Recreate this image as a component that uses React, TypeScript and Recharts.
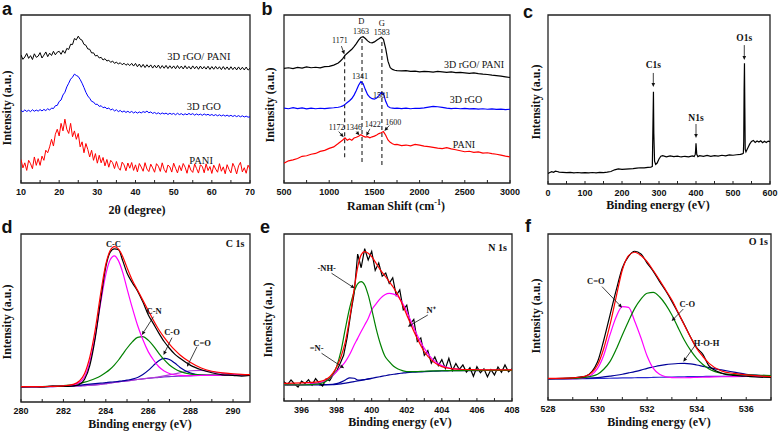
import React from 'react';
import { LineChart, Line, XAxis, YAxis, ReferenceArea, ReferenceDot, ReferenceLine } from 'recharts';

const SERIF = '"Liberation Serif", "Times New Roman", serif';
const SANS = '"Liberation Sans", Arial, sans-serif';

// ---------- a: XRD ----------
const xrdAngle = [
  10, 10.5, 11, 11.5, 12, 12.5, 13, 13.5, 14, 14.5,
  15, 15.5, 16, 16.5, 17, 17.5, 18, 18.5, 19, 19.5,
  20, 20.5, 21, 21.5, 22, 22.5, 23, 23.5, 24, 24.5,
  25, 25.5, 26, 26.5, 27, 27.5, 28, 28.5, 29, 29.5,
  30, 30.5, 31, 31.5, 32, 32.5, 33, 33.5, 34, 34.5,
  35, 35.5, 36, 36.5, 37, 37.5, 38, 38.5, 39, 39.5,
  40, 40.5, 41, 41.5, 42, 42.5, 43, 43.5, 44, 44.5,
  45, 45.5, 46, 46.5, 47, 47.5, 48, 48.5, 49, 49.5,
  50, 50.5, 51, 51.5, 52, 52.5, 53, 53.5, 54, 54.5,
  55, 55.5, 56, 56.5, 57, 57.5, 58, 58.5, 59, 59.5,
  60, 60.5, 61, 61.5, 62, 62.5, 63, 63.5, 64, 64.5,
  65, 65.5, 66, 66.5, 67, 67.5, 68, 68.5, 69, 69.5,
  70,
];
const xrdComposite = [
  76.2, 73.6, 75, 77.1, 74.2, 75.8, 73.5, 76.9, 74.8, 75.5,
  77.6, 74.4, 76.1, 78, 75.2, 77.3, 75.9, 78.4, 76.3, 77.9,
  78.4, 76.6, 78.9, 77.2, 80.1, 79.5, 82.6, 82.4, 86, 85.2,
  87.4, 85.6, 85, 82.5, 82, 79.8, 79.6, 77.4, 77.5, 75.6,
  76, 74.4, 74.8, 73.2, 74, 72.6, 73.1, 71.8, 72.6, 71.2,
  72, 70.8, 71.6, 70.4, 71.3, 70.1, 71, 69.9, 71.2, 69.6,
  71.2, 69.2, 70.8, 68.9, 70.6, 68.7, 70.4, 68.9, 70.3, 68.4,
  70.1, 68.5, 70.2, 68.2, 69.9, 68.3, 70, 68.1, 69.8, 68.2,
  69.7, 68, 69.9, 68.1, 69.6, 67.9, 69.8, 68, 69.4, 67.8,
  69.7, 68, 69.5, 67.7, 69.6, 67.9, 69.3, 67.8, 69.5, 67.6,
  69.3, 67.7, 69.4, 67.8, 69.2, 67.5, 69.3, 67.6, 69.1, 67.4,
  69.2, 67.5, 69, 67.3, 69.1, 67.4, 68.9, 67.3, 69, 67.2,
  68.3,
];
const xrdRgo = [
  43.2, 42.4, 43.5, 42.6, 43.3, 42.5, 43.6, 42.7, 43.4, 42.8,
  43.7, 42.9, 43.8, 43.1, 44.2, 43.4, 44.6, 44.3, 46, 46.2,
  48.5, 49.4, 52.4, 54, 57.2, 59.4, 61.8, 63, 64.8, 64,
  63.4, 61.6, 59.4, 56.8, 54, 51.8, 50.4, 48.6, 48.2, 46.8,
  46.9, 45.6, 46, 44.8, 45.2, 44.2, 44.6, 43.5, 44, 42.9,
  43.6, 42.5, 43.2, 42.2, 42.9, 42, 42.7, 41.9, 42.6, 41.7,
  42.4, 41.6, 42.3, 41.7, 42.5, 42, 42.8, 41.8, 42.3, 41.4,
  42, 41.2, 41.8, 41, 41.7, 41.1, 41.6, 40.8, 41.5, 40.9,
  41.4, 40.6, 41.5, 40.7, 41.3, 40.5, 41.2, 40.6, 41.4, 40.7,
  41.3, 40.4, 41.1, 40.5, 41, 40.3, 41.1, 40.4, 40.9, 40.2,
  40.8, 40.1, 40.7, 40, 40.6, 39.9, 40.5, 39.8, 40.4, 39.7,
  40.3, 39.6, 40.2, 39.5, 40.1, 39.4, 40, 39.3, 39.8, 39.2,
  39.4,
];
const xrdPani = [
  14, 9, 12, 7.5, 13.5, 11.5, 8.5, 15.5, 10.5, 14.5,
  10.5, 16, 13.5, 19.5, 18, 21.5, 26, 22, 29, 32,
  28, 35.5, 31, 38, 32, 29.5, 35.5, 27.5, 31, 26,
  29.5, 21.5, 24.5, 18, 23.5, 20, 15.5, 19.5, 13.5, 17.5,
  11.8, 16.5, 12, 15.2, 10.2, 14, 9.4, 13.5, 12.1, 8.6,
  12.8, 9.2, 7.6, 12.4, 10.8, 7.3, 11.9, 8.8, 12.2, 7.5,
  10.8, 6.6, 11.6, 9.5, 7, 12.1, 8.3, 6.8, 11.2, 9,
  6.4, 11.5, 10, 6.9, 12, 8.1, 6.2, 10.7, 9.6, 6.5,
  11.8, 8.8, 6, 10.4, 7.3, 11.6, 9.4, 5.8, 10.9, 7.7,
  6.3, 11.3, 8.6, 5.9, 10.8, 9.9, 6.1, 11.4, 7.4, 9.8,
  5.7, 10.6, 8.3, 6.4, 11.5, 7, 9.6, 5.5, 10.9, 8.1,
  6, 11.7, 9.3, 5.4, 10.2, 12.3, 6.6, 9.1, 5.8, 10.6,
  8.3,
];

// ---------- b: Raman ----------
const ramanShift = [
  500, 550, 600, 650, 700, 750, 800, 850, 900, 950, 1000, 1050,
  1100, 1125, 1150, 1175, 1200, 1225, 1250, 1275, 1300, 1325, 1350, 1375, 1400,
  1425, 1450, 1475, 1500, 1525, 1550, 1575, 1600, 1625, 1650, 1675, 1700, 1725, 1750,
  1800, 1850, 1900, 1950, 2000, 2050, 2100, 2150, 2200, 2250, 2300, 2350, 2400,
  2450, 2500, 2550, 2600, 2650, 2700, 2750, 2800, 2850, 2900, 2950, 3000,
];
const ramanComposite = [
  68.2, 68.6, 68.1, 68.8, 68.4, 69.1, 68.6, 68.9, 68.5, 69.3, 69.4, 70.2,
  71.4, 72.6, 74, 76, 77.2, 78.4, 79.6, 81.2, 83, 85, 86.6, 87.1, 86,
  84.6, 83.6, 83.4, 84, 85, 85.8, 86.7, 85.5, 80, 72.5, 68.6, 67.6, 67.1, 66.9,
  66.7, 66.9, 66.4, 66.6, 66.2, 66.5, 66.3, 66, 66.4, 66.1, 65.8, 66.1, 65.7,
  65.9, 65.6, 65.3, 65.5, 65.1, 64.8, 64.6, 64.2, 63.9, 63.6, 63.2, 62.8,
];
const ramanRgo = [
  44.6, 44.2, 44.8, 44.3, 44.7, 44.1, 44.6, 44.2, 44.5, 44.3, 44.6, 44.8,
  45.1, 45.4, 45.9, 46.8, 47.9, 49, 50.3, 52.3, 55, 58.2, 60.3, 59.2, 55.6,
  52.6, 51, 50.2, 49.9, 50.6, 52, 53.8, 53.2, 48.6, 45.6, 44.8, 44.6, 44.4, 44.6,
  44.3, 44.6, 44.2, 44.5, 44.4, 44.7, 45.2, 45.6, 45.4, 45, 44.6, 44.3, 44.5,
  44.2, 44.4, 44.1, 44.3, 44, 44.2, 43.9, 44.1, 43.8, 44, 43.7, 43.9,
];
const ramanPani = [
  11.8, 13.2, 13.8, 14.6, 15.9, 16.2, 17.1, 17.6, 18.8, 19.4, 20.6, 21.5,
  23.5, 24.6, 25.6, 26.9, 25.4, 26.2, 25.5, 26.8, 27.2, 27.8, 28.7, 27.9, 27.3,
  27.6, 26.9, 27.5, 27.9, 28.6, 29.4, 29.9, 30.6, 28.4, 25.6, 24.2, 23.4, 22.8, 23,
  22.3, 22.6, 22.1, 23, 22.5, 21.9, 21.6, 21.2, 20.8, 20.5, 21, 20.3, 19.8,
  19.2, 18.6, 18.9, 18.2, 18.5, 17.8, 18, 17.5, 17.1, 16.6, 16, 15.6,
];

// ---------- c: XPS survey ----------
const surveyEnergy = [
  0, 5, 10, 15, 20, 25, 30, 40, 50, 60, 70, 80, 90, 100, 110, 120, 130, 140, 150, 160,
  170, 180, 190, 200, 210, 220, 230, 240, 250, 260, 270, 278, 282, 284, 285, 286, 288, 291, 295, 300,
  305, 310, 320, 330, 340, 350, 360, 370, 380, 390, 395, 398, 399, 400, 401, 402, 405, 410, 420, 430,
  440, 450, 460, 470, 480, 490, 500, 510, 520, 525, 528, 529, 530, 531, 532, 533, 535, 538, 541, 545,
  550, 555, 560, 565, 570, 575, 580, 585, 590, 595, 600,
];
const surveyCounts = [
  6.2, 6.8, 7.3, 6.9, 7.6, 7.4, 7, 6.9, 6.7, 6.9, 6.6, 6.8, 6.6, 6.7, 6.6, 6.8, 6.6, 6.9, 6.7, 7,
  7.4, 8.4, 8.9, 8.6, 8.8, 9, 9.1, 9.4, 9.6, 9.5, 9.8, 10, 10.4, 40, 54.6, 30, 13.5, 11.6, 12.4, 14.8,
  16.4, 16.8, 16.1, 16.6, 16.2, 16.5, 16, 16.4, 16.1, 16.6, 16.3, 17.5, 20, 24.1, 21, 17.6, 16.2, 16.8, 16.3, 16.9,
  16.4, 16.8, 16.5, 17, 16.6, 17.2, 17, 17.3, 17.5, 17.8, 18.2, 25, 55, 71.4, 45, 20.5, 19, 20.4, 21.8, 23.6,
  25.2, 25.8, 24.6, 25.4, 24.8, 25.6, 24.4, 25.3, 24.6, 25.4, 25,
];

// ---------- d: C 1s ----------
const c1sEnergy = [
  280, 280.5, 281, 281.5, 282, 282.5, 282.75, 283, 283.25, 283.5, 283.75, 284,
  284.2, 284.4, 284.6, 284.8, 285, 285.25, 285.5, 285.75, 286, 286.25, 286.5,
  286.75, 287, 287.25, 287.5, 288, 288.5, 289, 289.5, 290, 290.4, 290.8,
];
const c1sRaw = [
  9, 9.2, 9, 9.4, 9.3, 9.6, 10.4, 13.5, 22, 38, 60, 80.5,
  89, 91.2, 90.6, 84, 76.8, 71, 66, 59.5, 52, 46.5, 41,
  36, 32, 28.5, 26, 21.8, 19.2, 17.4, 16.2, 15.9, 15.4, 15.8,
];
const c1sFit = [
  9.1, 9.1, 9.2, 9.3, 9.6, 10.6, 12.5, 17, 27, 43, 64, 82,
  90, 92.5, 91, 86.5, 80, 72.5, 66.5, 60.5, 54.5, 48.5, 43,
  38.5, 34.5, 31, 28, 23.5, 20.2, 18.3, 17.3, 16.8, 16.5, 16.3,
];
const c1sCC = [
  9.1, 9.1, 9.2, 9.3, 9.5, 10.2, 11.6, 15, 24, 39, 58.5, 76,
  84.5, 87, 84, 77, 67.5, 56, 45.5, 37, 30, 25, 21,
  18.5, 17, 16.2, 15.8, 15.7, 15.8, 15.9, 16, 16.1, 16.1, 16.1,
];
const c1sCN = [
  9.1, 9.1, 9.2, 9.4, 9.7, 10.4, 11, 11.8, 12.8, 14, 15.5, 17.5,
  19.5, 22, 25, 28.5, 32, 35.8, 38.5, 38.9, 36.8, 33.2, 29,
  25.2, 22, 19.8, 18.2, 16.6, 16.1, 16, 16, 16.1, 16.1, 16.1,
];
const c1sCO = [
  9.1, 9.1, 9.2, 9.3, 9.5, 9.8, 10, 10.3, 10.6, 10.9, 11.2, 11.5,
  11.8, 12, 12.3, 12.6, 13, 13.6, 14.6, 16.3, 18.8, 21.8, 24.6,
  26, 25.3, 23.2, 20.6, 17.2, 16, 15.8, 15.9, 16, 16.1, 16.1,
];
const c1sCdO = [
  9, 9, 9.1, 9.2, 9.3, 9.5, 9.6, 9.8, 10, 10.2, 10.5, 10.9,
  11.3, 11.6, 12, 12.3, 12.6, 13, 13.4, 13.8, 14.2, 14.6, 15,
  15.5, 16.1, 16.8, 17.4, 18.6, 18.8, 18, 17, 16.4, 16.2, 16.1,
];
const c1sBase = [
  9, 9, 9.1, 9.2, 9.3, 9.5, 9.6, 9.8, 10, 10.2, 10.5, 10.9,
  11.3, 11.6, 12, 12.3, 12.6, 13, 13.4, 13.8, 14.1, 14.4, 14.7,
  14.9, 15.1, 15.3, 15.4, 15.6, 15.8, 15.9, 16, 16.1, 16.1, 16.1,
];

// ---------- e: N 1s ----------
const n1sRawEnergy = [
  395, 395.2, 395.4, 395.6, 395.8, 396, 396.2, 396.4, 396.6, 396.8,
  397, 397.2, 397.4, 397.6, 397.8, 398, 398.2, 398.4, 398.6, 398.8,
  399, 399.2, 399.4, 399.6, 399.8, 400, 400.2, 400.4, 400.6, 400.8,
  401, 401.2, 401.4, 401.6, 401.8, 402, 402.2, 402.4, 402.6, 402.8,
  403, 403.2, 403.4, 403.6, 403.8, 404, 404.2, 404.4, 404.6, 404.8,
  405, 405.2, 405.4, 405.6, 405.8, 406, 406.2, 406.4, 406.6, 406.8,
  407, 407.2, 407.4, 407.6, 407.8, 408,
];
const n1sRaw = [
  11.5, 9.8, 12.6, 10.2, 8.4, 11.9, 10.5, 12.8, 9.6, 13.4,
  10.8, 8.9, 13.1, 12.2, 15.6, 17.8, 22.5, 27.4, 38, 52,
  64.5, 88, 79.8, 91.2, 84.5, 89.6, 78.2, 82.6, 74.8, 76.6,
  70.4, 73.8, 63.2, 66.5, 54.6, 57.4, 46.2, 48.9, 35.6, 37.8,
  27.4, 30.2, 22.6, 26.4, 21.2, 24.8, 19.4, 25.6, 18.2, 22.4,
  18.9, 21.6, 17.3, 19.9, 14.8, 20.5, 16.9, 19.3, 14.5, 18.8,
  15.6, 20.4, 17.2, 21.6, 17.5, 19.2,
];
const n1sEnergy = [
  395, 396, 397, 397.5, 398, 398.25, 398.5, 398.75, 399, 399.2, 399.4, 399.6, 399.8,
  400, 400.25, 400.5, 400.75, 401, 401.25, 401.5, 401.75, 402, 402.5, 403, 403.5,
  404, 404.5, 405, 406, 407, 408,
];
const n1sFit = [
  10.6, 10.8, 11.6, 13.6, 20.4, 26.5, 35.5, 50, 67, 80, 87.5, 89.4, 88.5,
  86.4, 82.5, 78.4, 75, 71.5, 67.8, 63.5, 57.8, 51.5, 39.5, 29.5, 23.6,
  20.6, 19.4, 19, 18.7, 18.6, 18.6,
];
const n1sNH = [
  9.6, 9.6, 10.2, 12.6, 20.6, 30, 43.5, 56, 65.5, 70.2, 71.5, 69.5, 63.5,
  55, 43.5, 34, 27, 23.6, 20.8, 19.2, 18.2, 17.6, 17.6, 17.8, 18,
  18.1, 18.2, 18.2, 18.3, 18.3, 18.3,
];
const n1sNplus = [
  9.6, 9.8, 10.8, 12.8, 17.6, 20.4, 23.6, 28, 33.5, 37.5, 41.6, 45.5, 49.4,
  54.5, 58.2, 61.5, 63.6, 64.4, 64, 62.5, 58.8, 53.5, 41.5, 31.5, 24.6,
  21.2, 19.6, 19, 18.6, 18.4, 18.3,
];
const n1sBase = [
  9.6, 9.6, 9.7, 9.8, 10, 10.3, 10.7, 11.1, 11.6, 12, 12.4, 12.8, 13.2,
  13.6, 14.1, 14.6, 15.1, 15.6, 16, 16.4, 16.7, 17, 17.3, 17.6, 17.8,
  18, 18.1, 18.2, 18.2, 18.3, 18.3,
];
const n1sImineEnergy = [397, 397.5, 398, 398.25, 398.5, 398.75, 399, 399.25, 399.5, 400];
const n1sImine = [9.7, 9.8, 10.4, 11.3, 12.6, 13.9, 13.6, 12.5, 12.7, 13.6];

// ---------- f: O 1s ----------
const o1sEnergy = [
  528, 529, 529.5, 530, 530.25, 530.5, 530.75, 531, 531.25, 531.5, 531.75, 532, 532.25,
  532.5, 532.75, 533, 533.25, 533.5, 533.75, 534, 534.25, 534.5, 535, 535.5, 536, 536.5, 537,
];
const o1sRaw = [
  12.8, 13.4, 14.2, 23, 36, 51, 66, 79.5, 86.5, 89.6, 88, 82.5, 77.5,
  71.5, 65.8, 59.4, 52.4, 45.5, 38, 31.5, 27.5, 20.5, 16.2, 14.8, 14.3, 13.8, 13.6,
];
const o1sFit = [
  13, 13.3, 14.3, 21.1, 31, 45.2, 62, 78.3, 87, 89, 87, 83.3, 78,
  72.3, 66.3, 60.2, 52.8, 45.2, 38, 31.1, 26.2, 22.1, 17.5, 16, 15.1, 14.5, 14.1,
];
const o1sCdO = [
  12.8, 12.9, 13.5, 19.1, 27, 39.2, 50, 56.2, 55.8, 47.5, 37.5, 26.5, 19,
  15.5, 14, 13.5, 13.4, 13.4, 13.5, 13.6, 13.7, 13.8, 14, 14.1, 14.2, 14.3, 14.4,
];
const o1sCO = [
  12.8, 13, 13.6, 15.5, 18.5, 23.1, 30.5, 39.2, 47.5, 55.2, 60.8, 64.3, 64.8,
  62.2, 57.5, 51.2, 43.6, 36.1, 30, 25.1, 21.4, 18.7, 16.1, 15.3, 15.1, 14.9, 14.7,
];
const o1sHOH = [
  12.7, 12.8, 13.1, 13.5, 13.9, 14.4, 14.9, 15.5, 16.3, 17.1, 18, 19.1, 19.9,
  20.7, 21.3, 21.7, 22, 22.1, 21.8, 21.1, 20.3, 19.5, 18.1, 16.8, 15.5, 14.9, 14.5,
];
const o1sBase = [
  12.7, 12.8, 12.9, 13, 13.05, 13.1, 13.2, 13.3, 13.35, 13.4, 13.45, 13.5, 13.6,
  13.7, 13.8, 13.85, 13.9, 14, 14.05, 14.1, 14.15, 14.2, 14.3, 14.35, 14.4, 14.45, 14.5,
];

type Pt = { x: number; y: number };
const pts = (xs: number[], ys: number[]): Pt[] => xs.map((x, i) => ({ x, y: ys[i] }));

type Curve = { data: Pt[]; color: string; w?: number; smooth?: boolean };
type Note = { x: number; y: number; text: string; size: number; bold?: boolean };
type Seg = [number, number, number, number];

const arrowShape = (p: any) => {
  const { x1, y1, x2, y2 } = p;
  const a = Math.atan2(y2 - y1, x2 - x1);
  const hx = x2 - 4 * Math.cos(a);
  const hy = y2 - 4 * Math.sin(a);
  const s = Math.sin(a) * 1.8;
  const c = Math.cos(a) * 1.8;
  return (
    <g>
      <line x1={x1} y1={y1} x2={hx} y2={hy} stroke="#111" strokeWidth={0.8} />
      <polygon points={`${x2},${y2} ${hx - s},${hy + c} ${hx + s},${hy - c}`} fill="#111" />
    </g>
  );
};

interface PanelProps {
  l: number; t: number; w: number; h: number;
  domain: [number, number];
  ticks: number[];
  majors: number[];
  curves: Curve[];
  notes?: Note[];
  arrows?: Seg[];
  dashes?: Seg[];
}

const ML = 14, MR = 14, MT = 4, AXH = 22;

const Panel: React.FC<PanelProps> = ({ l, t, w, h, domain, ticks, majors, curves, notes = [], arrows = [], dashes = [] }) => (
  <div style={{ position: 'absolute', left: l - ML, top: t - MT }}>
    <LineChart width={w + ML + MR} height={h + MT + AXH} margin={{ top: MT, left: ML, right: MR, bottom: 0 }}>
      <XAxis
        type="number"
        dataKey="x"
        domain={domain}
        ticks={ticks}
        interval={0}
        allowDataOverflow
        height={AXH}
        axisLine={false}
        tickLine={{ stroke: '#222', strokeWidth: 1 }}
        tickSize={-3}
        tickMargin={9}
        tick={(p: any) =>
          majors.includes(p.payload.value) ? (
            <text x={p.x} y={p.y} dy="0.71em" textAnchor="middle" fontSize={9} fontWeight="bold" fontFamily={SANS} fill="#111">
              {p.payload.value}
            </text>
          ) : (
            <g />
          )
        }
      />
      <YAxis hide type="number" domain={[0, 100]} allowDataOverflow />
      {dashes.map((d, i) => (
        <ReferenceLine key={'d' + i} segment={[{ x: d[0], y: d[1] }, { x: d[2], y: d[3] }]} stroke="#222" strokeWidth={1.1} strokeDasharray="4 3" ifOverflow="visible" />
      ))}
      {curves.map((c, i) => (
        <Line
          key={i}
          data={c.data}
          dataKey="y"
          type={c.smooth ? 'monotone' : 'linear'}
          stroke={c.color}
          strokeWidth={c.w ?? 1.2}
          dot={false}
          activeDot={false}
          isAnimationActive={false}
        />
      ))}
      {arrows.map((a, i) => (
        <ReferenceLine key={'a' + i} segment={[{ x: a[0], y: a[1] }, { x: a[2], y: a[3] }]} shape={arrowShape} ifOverflow="visible" />
      ))}
      {notes.map((n, i) => (
        <ReferenceDot
          key={'n' + i}
          x={n.x}
          y={n.y}
          r={0}
          fill="none"
          stroke="none"
          ifOverflow="visible"
          label={{ value: n.text, position: 'center', fontSize: n.size, fontFamily: SERIF, fontWeight: n.bold ? 'bold' : 'normal', fill: '#111' }}
        />
      ))}
      <ReferenceArea x1={domain[0]} x2={domain[1]} y1={0} y2={100} fill="none" stroke="#222" strokeWidth={1.3} ifOverflow="visible" />
    </LineChart>
  </div>
);

const Txt: React.FC<{ x: number; y: number; size: number; serif?: boolean; rotate?: boolean; children: React.ReactNode }> = ({ x, y, size, serif, rotate, children }) => (
  <div
    style={{
      position: 'absolute',
      left: x,
      top: y,
      transform: `translate(-50%, -50%)${rotate ? ' rotate(-90deg)' : ''}`,
      fontSize: size,
      fontFamily: serif ? SERIF : SANS,
      fontWeight: 'bold',
      whiteSpace: 'nowrap',
      lineHeight: 1,
      color: '#111',
    }}
  >
    {children}
  </div>
);

const BLACK = '#000000';
const RED = '#ff0000';
const BLUE = '#0000ff';
const MAGENTA = '#ff00ff';
const GREEN = '#008000';
const NAVY = '#000099';
const PURPLE = '#7b2fd0';

export default function App() {
  return (
    <div style={{ position: 'absolute', left: 0, top: 0, width: 778, height: 435, background: '#fff', overflow: 'hidden' }}>
      {/* a */}
      <Panel
        l={21} t={15} w={229} h={168}
        domain={[10, 70]}
        ticks={[10, 15, 20, 25, 30, 35, 40, 45, 50, 55, 60, 65, 70]}
        majors={[10, 20, 30, 40, 50, 60, 70]}
        curves={[
          { data: pts(xrdAngle, xrdPani), color: RED, w: 1 },
          { data: pts(xrdAngle, xrdRgo), color: BLUE, w: 1 },
          { data: pts(xrdAngle, xrdComposite), color: BLACK, w: 1 },
        ]}
        notes={[
          { x: 56.6, y: 75.5, text: '3D rGO/ PANI', size: 10.5 },
          { x: 57.9, y: 45.8, text: '3D rGO', size: 10.5 },
          { x: 57.2, y: 13.5, text: 'PANI', size: 10.5 },
        ]}
      />
      {/* b */}
      <Panel
        l={284} t={15} w={226} h={168}
        domain={[500, 3000]}
        ticks={[500, 750, 1000, 1250, 1500, 1750, 2000, 2250, 2500, 2750, 3000]}
        majors={[500, 1000, 1500, 2000, 2500, 3000]}
        curves={[
          { data: pts(ramanShift, ramanPani), color: RED },
          { data: pts(ramanShift, ramanRgo), color: BLUE },
          { data: pts(ramanShift, ramanComposite), color: BLACK },
        ]}
        dashes={[
          [1171, 76, 1171, 14.9],
          [1363, 85.7, 1363, 10.7],
          [1583, 83.9, 1583, 9.5],
        ]}
        arrows={[
          [1135, 81.5, 1168, 76.5],
          [1105, 30.6, 1160, 27.3],
          [1300, 30.6, 1335, 28.4],
          [1450, 32.2, 1410, 28],
          [1665, 34.2, 1610, 31],
        ]}
        notes={[
          { x: 1355, y: 96.2, text: 'D', size: 8.5 },
          { x: 1352, y: 90.6, text: '1363', size: 8 },
          { x: 1581, y: 95.2, text: 'G', size: 8.5 },
          { x: 1581, y: 89.6, text: '1583', size: 8 },
          { x: 1119, y: 84.8, text: '1171', size: 8 },
          { x: 1341, y: 63.4, text: '1341', size: 8 },
          { x: 1573, y: 52.4, text: '1581', size: 8 },
          { x: 1083, y: 33.2, text: '1172', size: 8 },
          { x: 1274, y: 33.2, text: '1346', size: 8 },
          { x: 1481, y: 34.9, text: '1422', size: 8 },
          { x: 1709, y: 36.5, text: '1600', size: 8 },
          { x: 2602, y: 70.7, text: '3D rGO/ PANI', size: 10 },
          { x: 2513, y: 49.8, text: '3D rGO', size: 10 },
          { x: 2491, y: 23.2, text: 'PANI', size: 10 },
        ]}
      />
      {/* c */}
      <Panel
        l={548} t={15} w={222} h={169}
        domain={[0, 600]}
        ticks={[0, 50, 100, 150, 200, 250, 300, 350, 400, 450, 500, 550, 600]}
        majors={[0, 100, 200, 300, 400, 500, 600]}
        curves={[{ data: pts(surveyEnergy, surveyCounts), color: BLACK }]}
        arrows={[
          [284.6, 65.7, 284.6, 57.4],
          [400, 35.5, 400, 27.2],
          [530.5, 82.2, 530.5, 73.4],
        ]}
        notes={[
          { x: 284.6, y: 70.4, text: 'C1s', size: 9.5, bold: true },
          { x: 400, y: 39.5, text: 'N1s', size: 9.5, bold: true },
          { x: 530.5, y: 86.6, text: 'O1s', size: 9.5, bold: true },
        ]}
      />
      {/* d */}
      <Panel
        l={21} t={234} w={229} h={168}
        domain={[280, 290.8]}
        ticks={[280, 281, 282, 283, 284, 285, 286, 287, 288, 289, 290]}
        majors={[280, 282, 284, 286, 288, 290]}
        curves={[
          { data: pts(c1sEnergy, c1sBase), color: PURPLE, smooth: true },
          { data: pts(c1sEnergy, c1sCdO), color: '#b03ad8', smooth: true },
          { data: pts(c1sEnergy, c1sCO), color: NAVY, smooth: true },
          { data: pts(c1sEnergy, c1sCN), color: GREEN, smooth: true },
          { data: pts(c1sEnergy, c1sCC), color: MAGENTA, smooth: true },
          { data: pts(c1sEnergy, c1sRaw), color: BLACK, smooth: true },
          { data: pts(c1sEnergy, c1sFit), color: RED, smooth: true },
        ]}
        arrows={[
          [286.25, 50.8, 285.7, 39.9],
          [287.12, 38.3, 286.72, 28],
          [288.3, 32.9, 287.83, 21],
        ]}
        notes={[
          { x: 284.36, y: 94.2, text: 'C-C', size: 8.5, bold: true },
          { x: 290.1, y: 94.5, text: 'C 1s', size: 10, bold: true },
          { x: 286.28, y: 54, text: 'C-N', size: 8.5, bold: true },
          { x: 287.12, y: 41.6, text: 'C-O', size: 8.5, bold: true },
          { x: 288.54, y: 35.2, text: 'C=O', size: 8.5, bold: true },
        ]}
      />
      {/* e */}
      <Panel
        l={284} t={234} w={228} h={167}
        domain={[395, 408]}
        ticks={[395, 396, 397, 398, 399, 400, 401, 402, 403, 404, 405, 406, 407, 408]}
        majors={[396, 398, 400, 402, 404, 406, 408]}
        curves={[
          { data: pts(n1sEnergy, n1sBase), color: NAVY, smooth: true },
          { data: pts(n1sImineEnergy, n1sImine), color: NAVY, smooth: true },
          { data: pts(n1sRawEnergy, n1sRaw), color: BLACK },
          { data: pts(n1sEnergy, n1sNplus), color: MAGENTA, smooth: true },
          { data: pts(n1sEnergy, n1sNH), color: GREEN, smooth: true },
          { data: pts(n1sEnergy, n1sFit), color: RED, smooth: true },
        ]}
        arrows={[
          [397.71, 76.5, 399.03, 67.5],
          [403.2, 51.5, 402.06, 44.5],
          [397.14, 28.6, 398.43, 19.6],
        ]}
        notes={[
          { x: 407.18, y: 91.8, text: 'N 1s', size: 10, bold: true },
          { x: 397.43, y: 79.5, text: '-NH-', size: 8.5, bold: true },
          { x: 403.39, y: 54.5, text: 'N\u207A', size: 8.5, bold: true },
          { x: 396.86, y: 31.6, text: '=N-', size: 8.5, bold: true },
        ]}
      />
      {/* f */}
      <Panel
        l={548} t={234} w={223} h={166}
        domain={[528, 537]}
        ticks={[528, 529, 530, 531, 532, 533, 534, 535, 536, 537]}
        majors={[528, 530, 532, 534, 536]}
        curves={[
          { data: pts(o1sEnergy, o1sBase), color: '#2a2ad0', smooth: true },
          { data: pts(o1sEnergy, o1sHOH), color: NAVY, smooth: true },
          { data: pts(o1sEnergy, o1sCdO), color: MAGENTA, smooth: true },
          { data: pts(o1sEnergy, o1sCO), color: GREEN, smooth: true },
          { data: pts(o1sEnergy, o1sRaw), color: BLACK, smooth: true },
          { data: pts(o1sEnergy, o1sFit), color: RED, smooth: true },
        ]}
        arrows={[
          [530.18, 68.3, 530.99, 55.6],
          [533.46, 54.8, 532.99, 47.6],
          [533.93, 32.7, 533.46, 23.1],
        ]}
        notes={[
          { x: 536.49, y: 95.8, text: 'O 1s', size: 10, bold: true },
          { x: 529.93, y: 71.5, text: 'C=O', size: 8.5, bold: true },
          { x: 533.62, y: 57.9, text: 'C-O', size: 8.5, bold: true },
          { x: 534.4, y: 34.4, text: 'H-O-H', size: 8.5, bold: true },
        ]}
      />

      {/* panel letters */}
      <Txt x={7} y={9} size={18}>a</Txt>
      <Txt x={267} y={9} size={18}>b</Txt>
      <Txt x={528} y={12} size={18}>c</Txt>
      <Txt x={7} y={227} size={18}>d</Txt>
      <Txt x={265} y={227} size={18}>e</Txt>
      <Txt x={528} y={226} size={18}>f</Txt>

      {/* axis titles */}
      <Txt x={7} y={108} size={12} serif rotate>Intensity (a.u.)</Txt>
      <Txt x={270} y={105} size={12} serif rotate>Intensity (a.u.)</Txt>
      <Txt x={536} y={102} size={12} serif rotate>Intensity (a.u.)</Txt>
      <Txt x={7} y={322} size={12} serif rotate>Intensity (a.u.)</Txt>
      <Txt x={268} y={320} size={12} serif rotate>Intensity (a.u.)</Txt>
      <Txt x={536} y={316} size={12} serif rotate>Intensity (a.u.)</Txt>

      <Txt x={137} y={210} size={12} serif>2θ (degree)</Txt>
      <Txt x={396} y={205} size={12} serif>
        Raman Shift (cm<sup style={{ fontSize: 8 }}>-1</sup>)
      </Txt>
      <Txt x={658} y={205} size={12} serif>Binding energy (eV)</Txt>
      <Txt x={140} y={424} size={12} serif>Binding energy (eV)</Txt>
      <Txt x={400} y={422} size={12} serif>Binding energy (eV)</Txt>
      <Txt x={659} y={422} size={12} serif>Binding energy (eV)</Txt>
    </div>
  );
}
